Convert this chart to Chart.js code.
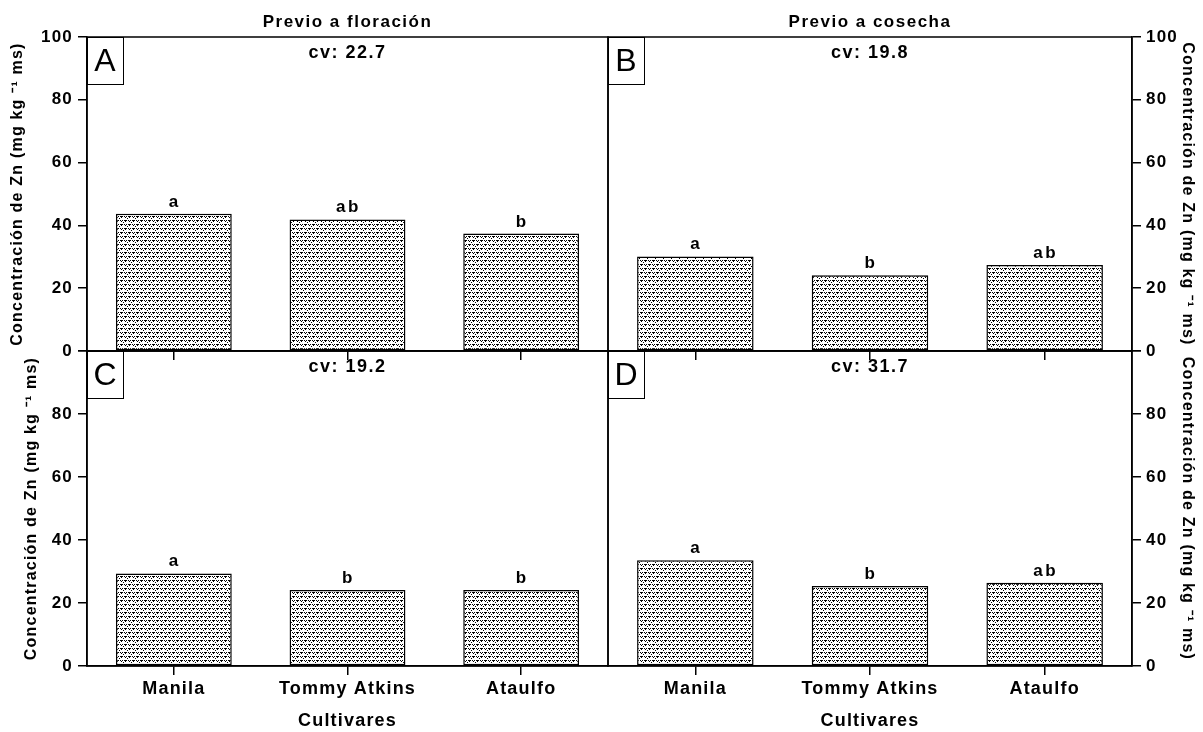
<!DOCTYPE html>
<html><head><meta charset="utf-8">
<script src="https://cdn.jsdelivr.net/npm/chart.js@4"></script>
<style>
html,body{margin:0;padding:0;background:#fff;}
#wrap{position:relative;width:1203px;height:732px;}
#wrap canvas{position:absolute;left:0;top:0;}
</style></head><body>
<div id="wrap">
<canvas id="cA" width="1203" height="732"></canvas>
<canvas id="cB" width="1203" height="732"></canvas>
<canvas id="cC" width="1203" height="732"></canvas>
<canvas id="cD" width="1203" height="732"></canvas>
</div>
<script>
const cultivares=['Manila','Tommy Atkins','Ataulfo'];
const znA=[43.7,41.9,37.4];
const znB=[30.1,24.1,27.4];
const znC=[29.4,24.1,24.1];
const znD=[33.6,25.4,26.4];
const letrasA=['a','ab','b'], letrasB=['a','b','ab'], letrasC=['a','b','b'], letrasD=['a','b','ab'];
const cvA='cv: 22.7', cvB='cv: 19.8', cvC='cv: 19.2', cvD='cv: 31.7';
const yTitle='Concentración de Zn (mg kg ⁻¹ ms)';
const FONT='"Liberation Sans", Arial, sans-serif';
Chart.defaults.font.family=FONT;
Chart.defaults.color='#000';

function makePattern(ctx){
  const t=document.createElement('canvas'); t.width=8; t.height=8;
  const g=t.getContext('2d'); g.fillStyle='#fff'; g.fillRect(0,0,8,8);
  g.fillStyle='#000';
  [[0,0],[1,0],[2,0],[4,0],[6,0],[1,1],[5,1],[7,2],
   [0,4],[2,4],[4,4],[5,4],[6,4],[1,5],[5,5],[3,6]].forEach(p=>g.fillRect(p[0],p[1],1,1));
  return ctx.createPattern(t,'repeat');
}

const panelPlugin={
  id:'panel',
  beforeDraw(chart){chart.ctx.letterSpacing='1.2px';},
  afterDraw(chart,args,o){
    const {ctx,chartArea:a}=chart, cx=(a.left+a.right)/2;
    ctx.save();
    ctx.strokeStyle='#000';ctx.lineWidth=1.5;
    ctx.strokeRect(a.left,a.top,a.right-a.left,a.bottom-a.top);
    ctx.fillStyle='#000';ctx.textAlign='center';ctx.textBaseline='middle';
    ctx.letterSpacing='1.5px';
    if(o.title){ctx.font='bold 17px '+FONT;ctx.fillText(o.title,cx,a.top-15);}
    ctx.font='bold 18px '+FONT;ctx.fillText(o.cv,cx,a.top+16);
    ctx.fillStyle='#fff';ctx.fillRect(a.left,a.top,36,47);
    ctx.lineWidth=1;ctx.strokeRect(a.left+0.5,a.top+0.5,36,47);
    ctx.fillStyle='#000';ctx.letterSpacing='0px';ctx.font='32px '+FONT;
    ctx.fillText(o.letter,a.left+18,a.top+25);
    ctx.font='bold 17px '+FONT;ctx.letterSpacing='2.5px';ctx.textBaseline='alphabetic';
    chart.getDatasetMeta(0).data.forEach((b,i)=>ctx.fillText(o.letters[i],b.x+1,b.y-7));
    ctx.restore();
  }
};

function makeChart(id,vals,o){
  const ctx=document.getElementById(id).getContext('2d');
  const right=o.side==='right';
  const top=o.row==='top';
  return new Chart(ctx,{
    type:'bar',
    data:{labels:cultivares,datasets:[{data:vals,backgroundColor:makePattern(ctx),borderColor:'#000',borderWidth:1.5,borderSkipped:false,barPercentage:0.667,categoryPercentage:1}]},
    options:{
      responsive:false,animation:false,
      layout:{padding:{left:right?608:0,right:right?0:595,top:top?37:351,bottom:top?369:0}},
      plugins:{legend:{display:false},tooltip:{enabled:false},
        panel:{title:o.title,cv:o.cv,letter:o.letter,letters:o.letters}},
      scales:{
        x:{
          grid:{offset:false,drawOnChartArea:false,color:'#000',tickLength:9,lineWidth:1.5},
          border:{display:true,color:'#000',width:1.5},
          ticks:{display:!top,font:{size:18,weight:'bold'},padding:3,color:'#000'},
          title:{display:!top,text:'Cultivares',font:{size:18,weight:'bold'},padding:0,color:'#000'},
          afterFit(s){s.height=top?12:66;}
        },
        y:{
          position:o.side,min:0,max:100,
          ticks:{stepSize:20,font:{size:17,weight:'bold'},padding:5,color:'#000',
            callback:v=>(!top&&v===100)?'':v},
          grid:{drawOnChartArea:false,color:'#000',tickLength:9,lineWidth:1.5},
          border:{display:true,color:'#000',width:1.5},
          title:{display:true,text:yTitle,font:{size:16,weight:'bold'},padding:{top:o.titlePad,bottom:0},color:'#000'},
          afterFit(s){s.width=right?71:87;}
        }
      }
    },
    plugins:[panelPlugin]
  });
}

makeChart('cA',znA,{side:'left',row:'top',title:'Previo a floración',cv:cvA,letter:'A',letters:letrasA,titlePad:8});
makeChart('cB',znB,{side:'right',row:'top',title:'Previo a cosecha',cv:cvB,letter:'B',letters:letrasB,titlePad:6});
makeChart('cC',znC,{side:'left',row:'bottom',cv:cvC,letter:'C',letters:letrasC,titlePad:22});
makeChart('cD',znD,{side:'right',row:'bottom',cv:cvD,letter:'D',letters:letrasD,titlePad:6});
</script>
</body></html>
